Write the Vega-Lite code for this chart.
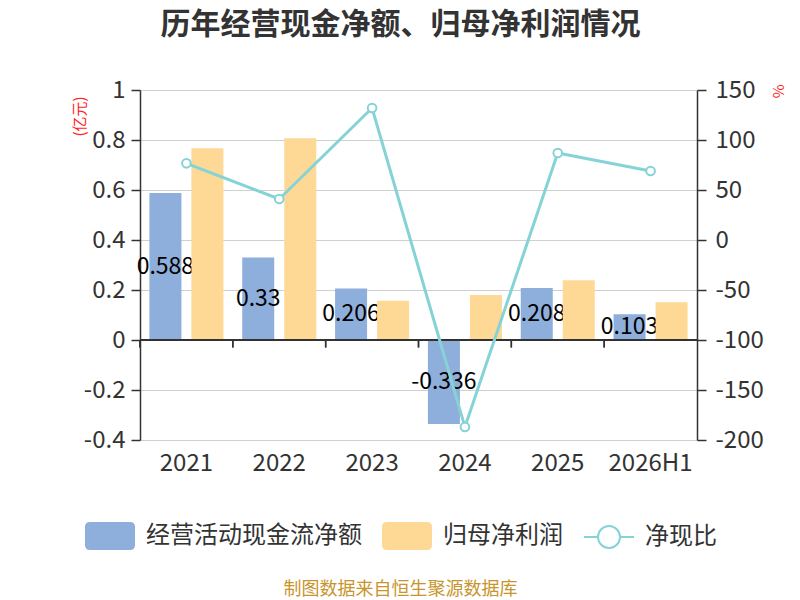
{
  "$schema": "https://vega.github.io/schema/vega-lite/v6.json",
  "autosize": "none",
  "width": 557,
  "height": 350,
  "padding": {"left": 140, "top": 90, "right": 103, "bottom": 160},
  "background": "#ffffff",
  "title": {
    "text": "历年经营现金净额、归母净利润情况",
    "font": "Noto Sans CJK SC",
    "fontSize": 30,
    "fontWeight": "bold",
    "color": "#333333",
    "anchor": "middle",
    "dx": -18,
    "offset": 38
  },
  "datasets": {
    "bars": [
      {"year": "2021", "series": "经营活动现金流净额", "value": 0.588},
      {"year": "2021", "series": "归母净利润", "value": 0.767},
      {"year": "2022", "series": "经营活动现金流净额", "value": 0.33},
      {"year": "2022", "series": "归母净利润", "value": 0.807},
      {"year": "2023", "series": "经营活动现金流净额", "value": 0.206},
      {"year": "2023", "series": "归母净利润", "value": 0.157},
      {"year": "2024", "series": "经营活动现金流净额", "value": -0.336},
      {"year": "2024", "series": "归母净利润", "value": 0.18},
      {"year": "2025", "series": "经营活动现金流净额", "value": 0.208},
      {"year": "2025", "series": "归母净利润", "value": 0.239},
      {"year": "2026H1", "series": "经营活动现金流净额", "value": 0.103},
      {"year": "2026H1", "series": "归母净利润", "value": 0.151}
    ],
    "ratio": [
      {"year": "2021", "ratio": 76.7},
      {"year": "2022", "ratio": 41},
      {"year": "2023", "ratio": 132},
      {"year": "2024", "ratio": -187},
      {"year": "2025", "ratio": 87},
      {"year": "2026H1", "ratio": 69}
    ]
  },
  "layer": [
    {
      "data": {"name": "bars"},
      "layer": [
        {
          "transform": [{"filter": "datum.series === '经营活动现金流净额'"}],
          "mark": {"type": "bar"},
          "encoding": {
            "x": {
              "field": "year",
              "type": "ordinal",
              "scale": {"paddingInner": 0, "paddingOuter": 0},
              "axis": {
                "orient": "bottom",
                "domain": false,
                "ticks": false,
                "labelAngle": 0,
                "labelPadding": 11,
                "title": "制图数据来自恒生聚源数据库",
                "titleColor": "#c8952c",
                "titleFontSize": 18,
                "titleFontWeight": "normal",
                "titlePadding": 105,
                "titleX": 260
              }
            },
            "xOffset": {
              "field": "series",
              "scale": {"domain": ["经营活动现金流净额", "归母净利润"], "paddingInner": 0.238, "paddingOuter": 0.224}
            },
            "y": {
              "field": "value",
              "type": "quantitative",
              "scale": {"domain": [-0.4, 1], "nice": false, "zero": false},
              "axis": {
                "values": [-0.4, -0.2, 0, 0.2, 0.4, 0.6, 0.8, 1],
                "labelExpr": "replace(format(datum.value, '~g'), '−', '-')",
                "grid": true,
                "gridColor": "#d0d0d0",
                "domainColor": "#333333",
                "domainWidth": 1.5,
                "tickColor": "#333333",
                "tickWidth": 1.5,
                "tickSize": 9,
                "labelPadding": 6,
                "title": "(亿元)",
                "titleColor": "#ff2222",
                "titleFontSize": 15,
                "titleFontWeight": "normal",
                "titleAngle": -90,
                "titleAlign": "center",
                "titleBaseline": "middle",
                "titleX": -61,
                "titleY": 26
              }
            },
            "color": {
              "field": "series",
              "type": "nominal",
              "scale": {"domain": ["经营活动现金流净额", "归母净利润"], "range": ["#8eaedb", "#fed895"]},
              "legend": {
                "orient": "none",
                "direction": "horizontal",
                "legendX": -55,
                "legendY": 421,
                "title": null,
                "symbolType": "M-0.8,-0.56H0.8Q1,-0.56,1,-0.36V0.36Q1,0.56,0.8,0.56H-0.8Q-1,0.56,-1,0.36V-0.36Q-1,-0.56,-0.8,-0.56Z",
                "symbolSize": 2500,
                "symbolStrokeWidth": 0,
                "labelFontSize": 24,
                "labelOffset": 11,
                "labelLimit": 300,
                "columnPadding": 20
              }
            }
          }
        },
        {
          "transform": [
            {"filter": "datum.series === '经营活动现金流净额'"},
            {"calculate": "datum.value / 2", "as": "mid"}
          ],
          "mark": {"type": "text", "align": "center", "baseline": "middle", "fontSize": 23, "color": "#000000", "font": "Noto Sans CJK SC"},
          "encoding": {
            "x": {"field": "year", "type": "ordinal"},
            "xOffset": {"field": "series"},
            "y": {"field": "mid", "type": "quantitative"},
            "text": {"field": "value", "type": "nominal"}
          }
        },
        {
          "transform": [{"filter": "datum.series === '归母净利润'"}],
          "mark": {"type": "bar"},
          "encoding": {
            "x": {"field": "year", "type": "ordinal"},
            "xOffset": {"field": "series"},
            "y": {"field": "value", "type": "quantitative"},
            "color": {"field": "series", "type": "nominal"}
          }
        },
        {
          "mark": {"type": "rule", "color": "#333333", "strokeWidth": 1.5},
          "encoding": {"y": {"datum": 0}}
        },
        {
          "mark": {"type": "rule", "color": "#333333", "strokeWidth": 1.5},
          "encoding": {
            "x": {"field": "year", "type": "ordinal", "bandPosition": 0},
            "y": {"datum": 0},
            "y2": {"datum": -0.03}
          }
        }
      ]
    },
    {
      "data": {"name": "ratio"},
      "layer": [
        {
          "mark": {"type": "line", "strokeWidth": 3},
          "encoding": {
            "x": {"field": "year", "type": "ordinal"},
            "y": {
              "field": "ratio",
              "type": "quantitative",
              "scale": {"domain": [-200, 150], "nice": false, "zero": false},
              "axis": {
                "orient": "right",
                "values": [-200, -150, -100, -50, 0, 50, 100, 150],
                "labelExpr": "replace(format(datum.value, '~g'), '−', '-')",
                "grid": false,
                "domainColor": "#333333",
                "domainWidth": 1.5,
                "tickColor": "#333333",
                "tickWidth": 1.5,
                "tickSize": 9,
                "labelPadding": 9,
                "title": "%",
                "titleColor": "#ff2222",
                "titleFontSize": 15,
                "titleFontWeight": "normal",
                "titleAngle": 90,
                "titleAlign": "center",
                "titleBaseline": "middle",
                "titleX": 80,
                "titleY": 1
              }
            },
            "stroke": {
              "datum": "净现比",
              "scale": {"range": ["#86d3d7"]},
              "legend": {
                "orient": "none",
                "legendX": 443,
                "legendY": 421,
                "title": null,
                "symbolType": "M-1,0H-0.44M0.44,0H1M0.44,0A0.44,0.44,0,1,1,-0.44,0A0.44,0.44,0,1,1,0.44,0Z",
                "symbolSize": 2500,
                "symbolFillColor": "#ffffff",
                "symbolStrokeWidth": 2,
                "labelFontSize": 24,
                "labelOffset": 10
              }
            }
          }
        },
        {
          "mark": {"type": "point", "filled": true, "fill": "#ffffff", "stroke": "#86d3d7", "strokeWidth": 2, "size": 75, "opacity": 1},
          "encoding": {
            "x": {"field": "year", "type": "ordinal"},
            "y": {"field": "ratio", "type": "quantitative"}
          }
        }
      ]
    }
  ],
  "resolve": {"scale": {"y": "independent"}},
  "config": {
    "font": "Noto Sans CJK SC",
    "view": {"stroke": null},
    "axis": {
      "labelFont": "Noto Sans CJK SC",
      "labelFontSize": 24,
      "labelColor": "#333333",
      "titleFont": "Noto Sans CJK SC"
    },
    "legend": {
      "labelFont": "Noto Sans CJK SC",
      "labelColor": "#333333",
      "labelFontSize": 24
    }
  }
}
